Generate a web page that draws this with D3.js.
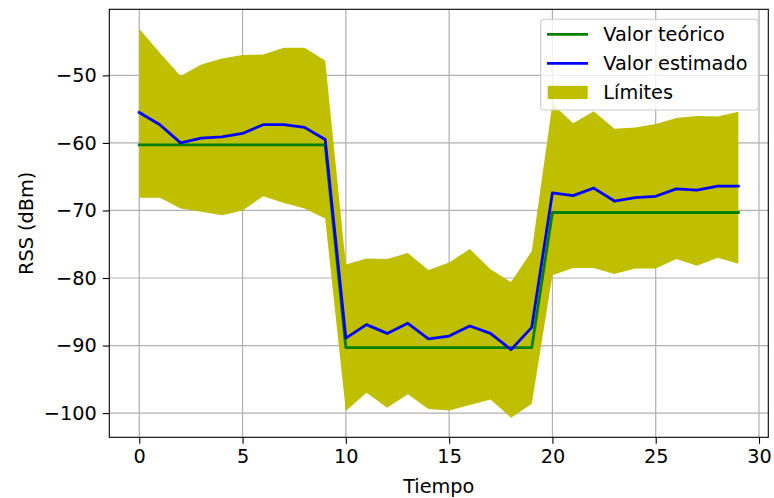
<!DOCTYPE html>
<html>
<head>
<meta charset="utf-8">
<script src="https://cdn.jsdelivr.net/npm/d3@7"></script>
<style>
  body { margin: 0; background: #fff; }
  text { font-family: "DejaVu Sans", sans-serif; }
</style>
</head>
<body>
<div id="chart"></div>
<script>
// values
const tiempo = d3.range(0, 30);
const teorico = [
  -60.3, -60.3, -60.3, -60.3, -60.3, -60.3, -60.3, -60.3, -60.3, -60.3,
  -90.3, -90.3, -90.3, -90.3, -90.3, -90.3, -90.3, -90.3, -90.3, -90.3,
  -70.3, -70.3, -70.3, -70.3, -70.3, -70.3, -70.3, -70.3, -70.3, -70.3];
const estimado = [
  -55.5, -57.3, -60.0, -59.3, -59.1, -58.6, -57.3, -57.3, -57.7, -59.5,
  -88.9, -86.9, -88.2, -86.7, -89.0, -88.6, -87.1, -88.2, -90.6, -87.3,
  -67.4, -67.8, -66.7, -68.6, -68.1, -67.9, -66.8, -67.0, -66.4, -66.4];
const limSup = [
  -43.1, -46.7, -50.1, -48.4, -47.5, -47.0, -46.9, -45.9, -45.9, -47.8,
  -78.0, -77.1, -77.2, -76.3, -78.8, -77.7, -75.7, -78.7, -80.6, -76.0,
  -54.2, -57.1, -55.3, -57.9, -57.7, -57.2, -56.3, -56.0, -56.1, -55.4];
const limInf = [
  -68.1, -68.1, -69.7, -70.2, -70.7, -70.0, -67.9, -68.9, -69.7, -71.2,
  -99.7, -97.0, -99.2, -97.2, -99.4, -99.6, -98.8, -98.0, -100.7, -98.6,
  -79.6, -78.5, -78.5, -79.4, -78.6, -78.6, -77.2, -78.2, -77.0, -77.9];
const xTicks = [0, 5, 10, 15, 20, 25, 30];
const yTicks = [-100, -90, -80, -70, -60, -50];

const width = 774, height = 498;
const margin = {top: 9.3, right: 5.7, bottom: 60.7, left: 109.3};
const fs = 19.3;

const svg = d3.select("#chart").append("svg")
  .attr("width", width).attr("height", height);

// matplotlib style 5% margins
const xMin = d3.min(tiempo), xMax = d3.max(tiempo);
const yMin = d3.min(limInf), yMax = d3.max(limSup);
const xPad = (xMax - xMin) * 0.05, yPad = (yMax - yMin) * 0.05;

const x = d3.scaleLinear()
  .domain([xMin - xPad, xMax + xPad])
  .range([margin.left, width - margin.right]);
const y = d3.scaleLinear()
  .domain([yMin - yPad, yMax + yPad])
  .range([height - margin.bottom, margin.top]);

// grid
svg.append("g")
  .selectAll("line").data(xTicks.filter(d => x(d) <= width - margin.right)).join("line")
  .attr("x1", d => x(d)).attr("x2", d => x(d))
  .attr("y1", margin.top).attr("y2", height - margin.bottom)
  .attr("stroke", "#b0b0b0").attr("stroke-width", 1.2);
svg.append("g")
  .selectAll("line").data(yTicks).join("line")
  .attr("y1", d => y(d)).attr("y2", d => y(d))
  .attr("x1", margin.left).attr("x2", width - margin.right)
  .attr("stroke", "#b0b0b0").attr("stroke-width", 1.2);

// band
const area = d3.area()
  .x((d, i) => x(tiempo[i]))
  .y0((d, i) => y(limInf[i]))
  .y1((d, i) => y(limSup[i]));
svg.append("path").datum(tiempo)
  .attr("d", area).attr("fill", "#bfbf00");

const line = vals => d3.line()
  .x((d, i) => x(tiempo[i]))
  .y(d => y(d))(vals);

svg.append("path").attr("d", line(teorico))
  .attr("fill", "none").attr("stroke", "#008000").attr("stroke-width", 2.8)
  .attr("stroke-linejoin", "round").attr("stroke-linecap", "square");
svg.append("path").attr("d", line(estimado))
  .attr("fill", "none").attr("stroke", "#0000ff").attr("stroke-width", 2.8)
  .attr("stroke-linejoin", "round").attr("stroke-linecap", "square");

// axes
const xAxis = d3.axisBottom(x).tickValues(xTicks).tickSize(6.5).tickPadding(6)
  .tickFormat(d3.format("d"));
const gx = svg.append("g")
  .attr("transform", "translate(0," + (height - margin.bottom) + ")")
  .call(xAxis);
const yAxis = d3.axisLeft(y).tickValues(yTicks).tickSize(6.5).tickPadding(6)
  .tickFormat(d3.format("d"));
const gy = svg.append("g")
  .attr("transform", "translate(" + margin.left + ",0)")
  .call(yAxis);
[gx, gy].forEach(g => {
  g.select(".domain").remove();
  g.selectAll(".tick line").attr("stroke", "#000").attr("stroke-width", 1.1);
  g.selectAll(".tick text").attr("fill", "#000")
    .style("font-size", fs + "px").style("font-family", "DejaVu Sans");
});

// frame
svg.append("rect")
  .attr("x", margin.left).attr("y", margin.top)
  .attr("width", width - margin.right - margin.left)
  .attr("height", height - margin.bottom - margin.top)
  .attr("fill", "none").attr("stroke", "#000").attr("stroke-width", 1.1);

// labels
svg.append("text")
  .attr("x", (margin.left + width - margin.right) / 2).attr("y", 493)
  .attr("text-anchor", "middle").style("font-size", fs + "px").text("Tiempo");
svg.append("text")
  .attr("transform", "translate(32.5," + ((margin.top + height - margin.bottom) / 2) + ") rotate(-90)")
  .attr("text-anchor", "middle").style("font-size", fs + "px").text("RSS (dBm)");

// legend
const leg = svg.append("g");
leg.append("rect")
  .attr("x", 540.7).attr("y", 19.3).attr("width", 217.6).attr("height", 90.7)
  .attr("rx", 3.5).attr("fill", "#fff").attr("fill-opacity", 0.8)
  .attr("stroke", "#cccccc").attr("stroke-width", 1.1);
const items = [
  {label: "Valor teórico", color: "#008000", kind: "line"},
  {label: "Valor estimado", color: "#0000ff", kind: "line"},
  {label: "Límites", color: "#bfbf00", kind: "patch"}
];
items.forEach((it, i) => {
  const cy = 34.3 + i * 29;
  if (it.kind === "line") {
    leg.append("line").attr("x1", 547).attr("x2", 588).attr("y1", cy).attr("y2", cy)
      .attr("stroke", it.color).attr("stroke-width", 2.8);
  } else {
    leg.append("rect").attr("x", 547.7).attr("y", cy - 6.5).attr("width", 40).attr("height", 13.3)
      .attr("fill", it.color);
  }
  leg.append("text").attr("x", 603.3).attr("y", cy + 7)
    .style("font-size", fs + "px").text(it.label);
});
</script>
</body>
</html>
